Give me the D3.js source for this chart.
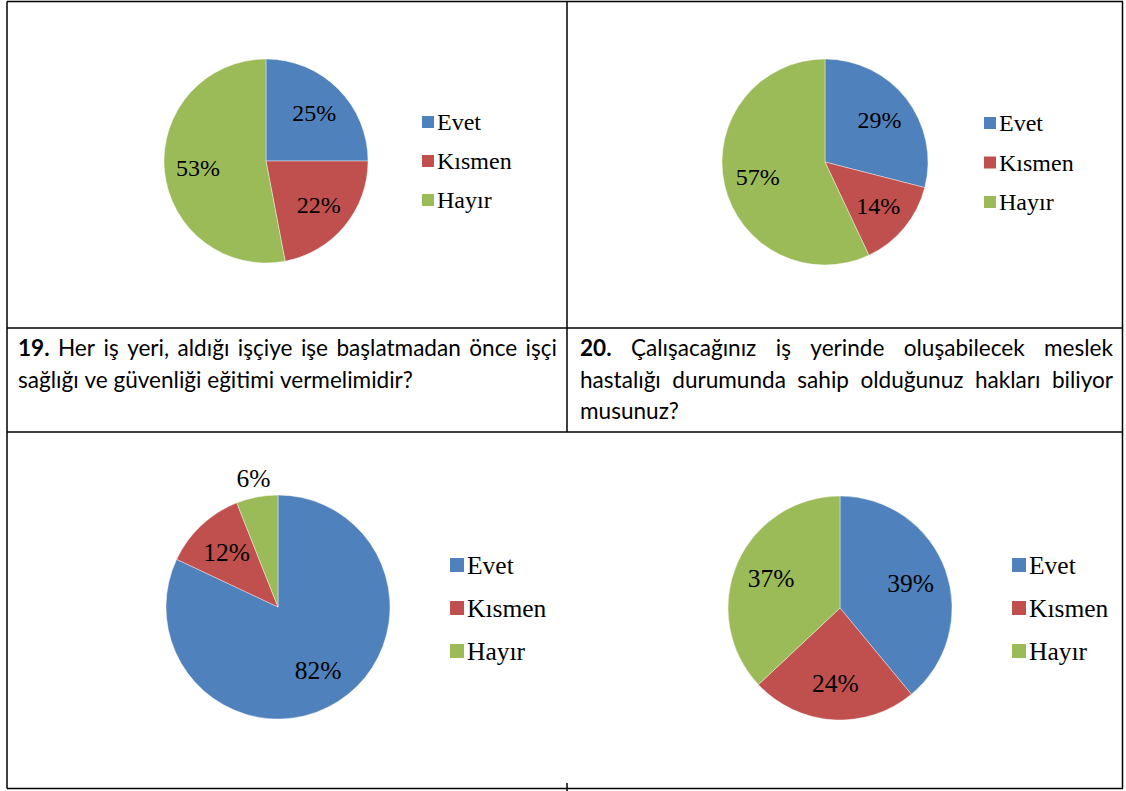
<!DOCTYPE html>
<html>
<head>
<meta charset="utf-8">
<script src="https://cdn.jsdelivr.net/npm/d3@7"></script>
<style>
  body { margin: 0; background: #fff; }
  svg { display: block; }
  .serif { font-family: "Liberation Serif", "Times New Roman", "DejaVu Serif", serif; }
  .cap { font-family: Lato, "Open Sans", sans-serif; }
</style>
</head>
<body>
<div id="chart"></div>
<script>
// categories and answers (percent)
var categories = ["Evet", "Kısmen", "Hayır"];
var colors = ["#4F81BD", "#C0504D", "#9BBB59"];

var q1Values = [25, 22, 53];
var q2Values = [29, 14, 57];
var q3Values = [82, 12, 6];
var q4Values = [39, 24, 37];

// question texts in the middle row
var q19Num = "19.";
var q19Lines = ["Her iş yeri, aldığı işçiye işe başlatmadan önce işçi",
                "sağlığı ve güvenliği eğitimi vermelimidir?"];
var q20Num = "20.";
var q20Lines = ["Çalışacağınız iş yerinde oluşabilecek meslek",
                "hastalığı durumunda sahip olduğunuz hakları biliyor",
                "musunuz?"];

var width = 1126, height = 791;

var svg = d3.select("#chart")
    .append("svg")
    .attr("width", width)
    .attr("height", height);

// table lines
var lineColor = "#000";
function hline(x1, x2, y) {
    svg.append("line").attr("x1", x1).attr("x2", x2).attr("y1", y).attr("y2", y)
        .attr("stroke", lineColor).attr("stroke-width", 1.5);
}
function vline(x, y1, y2) {
    svg.append("line").attr("x1", x).attr("x2", x).attr("y1", y1).attr("y2", y2)
        .attr("stroke", lineColor).attr("stroke-width", 1.5);
}
hline(7, 1123, 1.5);
hline(7, 1123, 328);
hline(7, 1123, 432);
hline(7, 1123, 788.5);
vline(7, 1.5, 788.5);
vline(1122.5, 1.5, 788.5);
vline(567, 1.5, 432);
vline(567, 783, 791);

// pie charts
var pie = d3.pie().sort(null).value(function(d) { return d; });

function drawPie(values, cx, cy, r, lx, ly, ldy, fs, sq) {
    var g = svg.append("g").attr("transform", "translate(" + cx + "," + cy + ")");
    var arc = d3.arc().innerRadius(0).outerRadius(r);
    var labelArc = d3.arc().innerRadius(r * 0.67).outerRadius(r * 0.67);
    var outArc = d3.arc().innerRadius(r * 1.17).outerRadius(r * 1.17);
    var arcs = pie(values);

    g.selectAll("path")
        .data(arcs)
        .enter().append("path")
        .attr("d", arc)
        .attr("fill", function(d, i) { return colors[i]; })
        .attr("stroke", "#fff")
        .attr("stroke-width", 0.4);

    g.selectAll("text")
        .data(arcs)
        .enter().append("text")
        .attr("class", "serif")
        .attr("transform", function(d) {
            var c = d.value < 8 ? outArc.centroid(d) : labelArc.centroid(d);
            return "translate(" + c + ")";
        })
        .attr("dy", "0.35em")
        .attr("text-anchor", "middle")
        .style("font-size", fs + "px")
        .attr("fill", "#000")
        .text(function(d) { return d.value + "%"; });

    // legend
    var leg = svg.append("g");
    categories.forEach(function(c, i) {
        var y = ly + i * ldy;
        leg.append("rect")
            .attr("x", lx).attr("y", y - sq / 2)
            .attr("width", sq).attr("height", sq)
            .attr("fill", colors[i]);
        leg.append("text")
            .attr("class", "serif")
            .attr("x", lx + sq + 3).attr("y", y)
            .attr("dy", "0.35em")
            .style("font-size", fs + "px")
            .attr("fill", "#000")
            .text(c);
    });
}

drawPie(q1Values, 266, 161, 102, 422, 122, 39, 24, 12);
drawPie(q2Values, 825, 162, 103, 984, 123, 39.5, 24, 12);
drawPie(q3Values, 278, 607, 112, 450, 565, 43, 25.5, 14);
drawPie(q4Values, 840, 608, 112, 1012, 565, 43, 25.5, 14);

// question text, justified like the document
function measure(word, bold, size) {
    var t = svg.append("text")
        .attr("class", "cap")
        .style("font-size", size + "px")
        .style("font-weight", bold ? "bold" : "normal")
        .text(word);
    var w = t.node().getComputedTextLength();
    t.remove();
    return w;
}

// size chosen so the unjustified last line of 19 ends where it does in the document
var capSize = 20 * 394 / measure(q19Lines[1], false, 20);

function drawCaption(num, lines, x0, x1, y0, lh) {
    var space = measure("a a", false, capSize) - 2 * measure("a", false, capSize);
    lines.forEach(function(line, li) {
        var words = line.split(" ").map(function(w) { return { t: w, b: false }; });
        if (li === 0) words.unshift({ t: num, b: true });
        words.forEach(function(w) { w.w = measure(w.t, w.b, capSize); });
        var total = d3.sum(words, function(w) { return w.w; });
        var last = li === lines.length - 1;
        var gap = last ? space : (x1 - x0 - total) / (words.length - 1);
        var x = x0;
        words.forEach(function(w) {
            svg.append("text")
                .attr("class", "cap")
                .attr("x", x).attr("y", y0 + li * lh)
                .style("font-size", capSize + "px")
                .style("font-weight", w.b ? "bold" : "normal")
                .attr("fill", "#000")
                .text(w.t);
            x += w.w + gap;
        });
    });
}

drawCaption(q19Num, q19Lines, 18, 557, 356, 31.5);
drawCaption(q20Num, q20Lines, 580, 1113, 356, 31.5);
</script>
</body>
</html>
